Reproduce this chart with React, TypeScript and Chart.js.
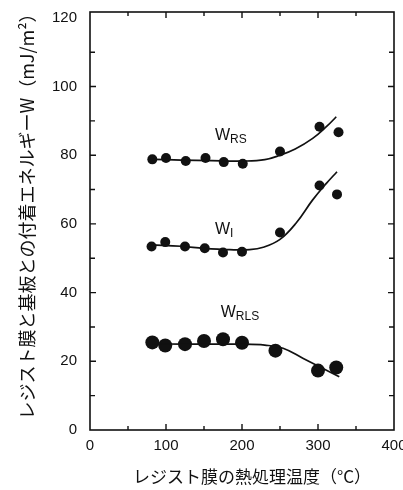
import React, { useEffect, useRef } from "react";
import { Chart, registerables } from "chart.js";

Chart.register(...registerables);

// Measured points
const tempRS = [82, 100, 126, 152, 176, 201, 250, 302, 327];
const wRS = [78.8, 79.2, 78.3, 79.2, 78.0, 77.5, 81.1, 88.3, 86.7];
const tempI = [81, 99, 125, 151, 175, 200, 250, 302, 325];
const wI = [53.4, 54.7, 53.4, 52.9, 51.7, 51.9, 57.5, 71.2, 68.6];
const tempRLS = [82, 99, 125, 150, 175, 200, 244, 300, 324];
const wRLS = [25.5, 24.6, 25.0, 25.9, 26.4, 25.4, 23.1, 17.3, 18.2];

// Fitted curves
const fitRSx = [82, 120, 160, 201, 230, 250, 270, 293, 311, 324];
const fitRSy = [78.8, 78.6, 78.4, 78.3, 78.7, 80.0, 81.8, 84.9, 88.3, 91.2];
const fitIx = [81, 120, 150, 184, 210, 228, 250, 271, 293, 311, 325];
const fitIy = [53.9, 53.5, 52.9, 52.5, 52.5, 53.2, 55.5, 60.2, 67.0, 71.8, 75.2];
const fitRLSx = [82, 120, 160, 200, 230, 254, 280, 302, 328];
const fitRLSy = [25.1, 25.0, 25.0, 25.0, 24.7, 23.8, 20.9, 18.4, 15.5];

// Axis ticks
const xTicks = [0, 100, 200, 300, 400];
const xMinor = [50, 150, 250, 350];
const yTicks = [0, 20, 40, 60, 80, 100, 120];
const yMinor = [10, 30, 50, 70, 90, 110];

// Series labels: [main, subscript, x, y]
const seriesLabels: [string, string, number, number][] = [
  ["W", "RS", 164.5, 84.4],
  ["W", "I", 164.5, 57.1],
  ["W", "RLS", 172, 32.9],
];

const yTitle = "レジスト膜と基板との付着エネルギーW（mJ/m²）";
const xTitle = "レジスト膜の熱処理温度（°C）";

const INK = "#111";

const toPts = (xs: number[], ys: number[]) => xs.map((x, i) => ({ x, y: ys[i] }));

const framePlugin = {
  id: "frame",
  afterDraw(chart: any) {
    const { ctx, chartArea: a, scales } = chart;
    const xs = scales.x;
    const ys = scales.y;
    ctx.save();
    ctx.strokeStyle = INK;
    ctx.lineWidth = 1.6;
    ctx.strokeRect(a.left, a.top, a.right - a.left, a.bottom - a.top);
    ctx.lineWidth = 1.4;
    const tick = (v: number, len: number, horiz: boolean) => {
      if (horiz) {
        const p = xs.getPixelForValue(v);
        ctx.beginPath();
        ctx.moveTo(p, a.bottom);
        ctx.lineTo(p, a.bottom - len);
        ctx.moveTo(p, a.top);
        ctx.lineTo(p, a.top + len);
        ctx.stroke();
      } else {
        const p = ys.getPixelForValue(v);
        ctx.beginPath();
        ctx.moveTo(a.left, p);
        ctx.lineTo(a.left + len, p);
        ctx.moveTo(a.right, p);
        ctx.lineTo(a.right - len, p);
        ctx.stroke();
      }
    };
    xTicks.slice(1, -1).forEach((v) => tick(v, 6, true));
    xMinor.forEach((v) => tick(v, 4, true));
    yTicks.slice(1, -1).forEach((v) => tick(v, 6, false));
    yMinor.forEach((v) => tick(v, 5, false));

    // series labels
    ctx.fillStyle = INK;
    ctx.textBaseline = "alphabetic";
    ctx.textAlign = "left";
    seriesLabels.forEach(([m, s, x, y]) => {
      const px = xs.getPixelForValue(x);
      const py = ys.getPixelForValue(y);
      ctx.font = "16px 'Liberation Sans', Arial, sans-serif";
      ctx.fillText(m, px, py);
      const w = ctx.measureText(m).width;
      ctx.font = "12px 'Liberation Sans', Arial, sans-serif";
      ctx.fillText(s, px + w, py + 3);
    });

    // axis titles
    ctx.font = "18px 'Noto Sans CJK JP', sans-serif";
    ctx.textAlign = "center";
    ctx.textBaseline = "middle";
    ctx.save();
    ctx.translate(27, 212);
    ctx.rotate(-Math.PI / 2);
    ctx.fillText(yTitle, 0, 0);
    ctx.restore();
    ctx.font = "17px 'Noto Sans CJK JP', sans-serif";
    ctx.fillText(xTitle, 252, 477);
    ctx.restore();
  },
};

export default function App() {
  const ref = useRef<HTMLCanvasElement | null>(null);
  useEffect(() => {
    if (!ref.current) return;
    const pointDs = (data: any, r: number) => ({
      data,
      showLine: false,
      pointRadius: r,
      pointBackgroundColor: INK,
      pointBorderColor: INK,
      pointBorderWidth: 0,
    });
    const lineDs = (data: any) => ({
      data,
      showLine: true,
      pointRadius: 0,
      borderColor: INK,
      borderWidth: 1.7,
      tension: 0.4,
      fill: false,
    });
    const tickFont = { family: "'Liberation Sans', Arial, sans-serif", size: 15 };
    const chart = new Chart(ref.current, {
      type: "scatter",
      data: {
        datasets: [
          lineDs(toPts(fitRSx, fitRSy)),
          lineDs(toPts(fitIx, fitIy)),
          lineDs(toPts(fitRLSx, fitRLSy)),
          pointDs(toPts(tempRS, wRS), 5),
          pointDs(toPts(tempI, wI), 5),
          pointDs(toPts(tempRLS, wRLS), 7),
        ] as any,
      },
      options: {
        animation: false,
        responsive: false,
        layout: { padding: { top: 12, right: 9, left: 0, bottom: 0 } },
        plugins: { legend: { display: false }, tooltip: { enabled: false } },
        scales: {
          x: {
            type: "linear",
            min: 0,
            max: 400,
            afterBuildTicks: (s: any) => {
              s.ticks = xTicks.map((v) => ({ value: v }));
            },
            afterFit: (s: any) => {
              s.height = 60;
              s.paddingLeft = 0;
              s.paddingRight = 0;
            },
            grid: { display: false, drawTicks: false },
            border: { display: false },
            ticks: { color: INK, font: tickFont, padding: 7, maxRotation: 0 },
          },
          y: {
            type: "linear",
            min: 0,
            max: 121.7,
            afterBuildTicks: (s: any) => {
              s.ticks = yTicks.map((v) => ({ value: v }));
            },
            afterFit: (s: any) => {
              s.width = 90;
              s.paddingTop = 0;
              s.paddingBottom = 0;
            },
            grid: { display: false, drawTicks: false },
            border: { display: false },
            ticks: { color: INK, font: tickFont, padding: 13 },
          },
        },
      } as any,
      plugins: [framePlugin],
    });
    return () => chart.destroy();
  }, []);
  return (
    <div style={{ position: "fixed", left: 0, top: 0, width: 403, height: 490, background: "#fff" }}>
      <canvas ref={ref} width={403} height={490} style={{ width: 403, height: 490 }} />
    </div>
  );
}
